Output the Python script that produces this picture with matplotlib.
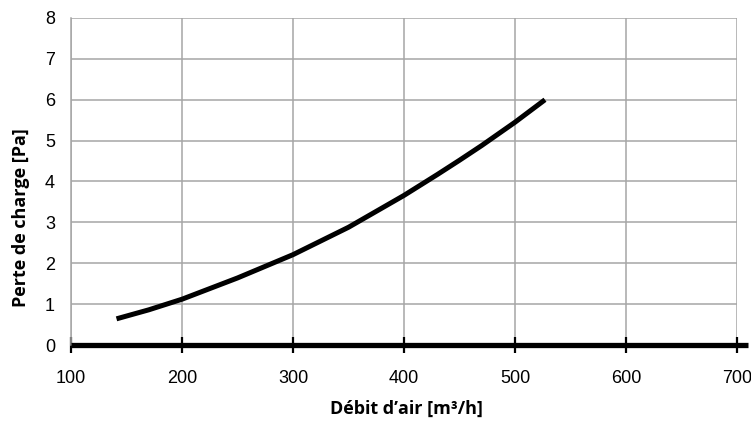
import matplotlib
matplotlib.use("Agg")
import matplotlib.pyplot as plt

# data
debit = [141, 170, 200, 250, 300, 350, 400, 430, 450, 470, 500, 527]
perte = [0.64, 0.86, 1.12, 1.64, 2.21, 2.88, 3.66, 4.17, 4.52, 4.88, 5.45, 6.0]
x_ticks = [100, 200, 300, 400, 500, 600, 700]
y_ticks = [0, 1, 2, 3, 4, 5, 6, 7, 8]
x_label = "Débit d’air [m³/h]"
y_label = "Perte de charge [Pa]"

W, H = 751, 421
fig = plt.figure(figsize=(W / 100, H / 100), dpi=100)
left, right, top, bottom = 71, 737, 18, 345
ax = fig.add_axes([left / W, (H - bottom) / H, (right - left) / W, (bottom - top) / H])

ax.set_xlim(100, 700)
ax.set_ylim(0, 8)
ax.set_xticks(x_ticks)
ax.set_yticks(y_ticks)

grid_c = "#a6a6a6"
ax.grid(True, color=grid_c, linewidth=1.1)
ax.set_axisbelow(True)
for s in ["top", "right", "bottom"]:
    ax.spines[s].set_visible(False)
ax.spines["left"].set_color(grid_c)
ax.spines["left"].set_linewidth(1.1)

# thick x axis line extending slightly beyond the plot area
ax.plot([0, 1.017], [0, 0], transform=ax.get_yaxis_transform(), color="black",
        linewidth=3.8, clip_on=False, solid_capstyle="butt", zorder=5)

ax.plot(debit, perte, color="black", linewidth=3.6, solid_capstyle="butt",
        solid_joinstyle="round", zorder=4)

ax.tick_params(axis="x", direction="inout", length=11, width=1.6, color="black",
               pad=12.5, labelsize=13)
ax.tick_params(axis="y", length=0, pad=11.5, labelsize=13)
for lab in ax.get_xticklabels() + ax.get_yticklabels():
    lab.set_fontfamily("Liberation Sans")
    lab.set_color("black")
for lab in ax.get_xticklabels():
    lab.set_clip_on(False)

ax.set_xlabel(x_label, fontfamily="Open Sans", fontweight="bold", fontsize=13)
ax.xaxis.set_label_coords((406 - left) / (right - left), (bottom - 409) / (bottom - top))
ax.xaxis.label.set_va("center")
ax.set_ylabel(y_label, fontfamily="Open Sans", fontweight="bold", fontsize=13)
ax.yaxis.set_label_coords((21 - left) / (right - left), (bottom - 218) / (bottom - top))
ax.yaxis.label.set_va("center")

fig.savefig("out.png", dpi=100)
